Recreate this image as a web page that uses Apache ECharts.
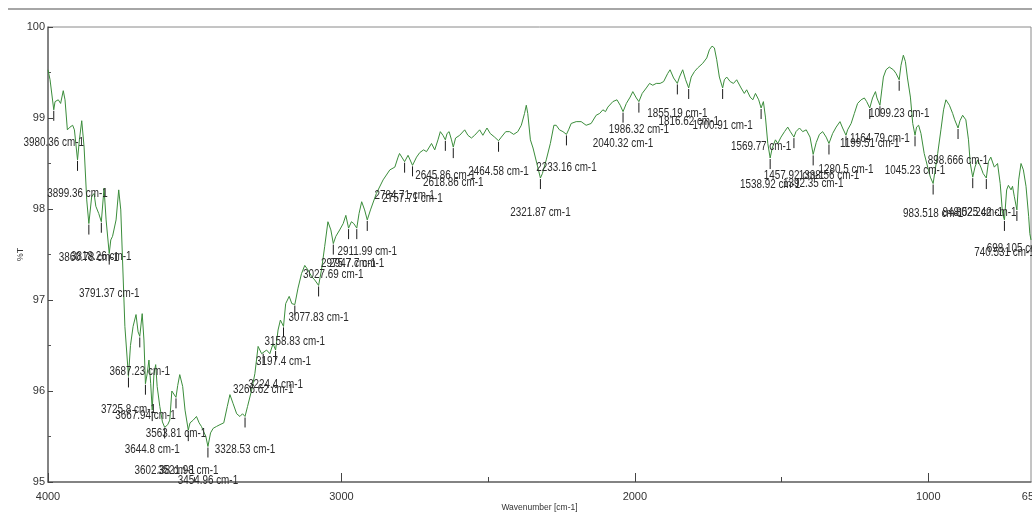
<!DOCTYPE html>
<html>
<head>
<meta charset="utf-8">
<title>IR spectrum</title>
<script src="https://cdn.jsdelivr.net/npm/echarts@6/dist/echarts.min.js"></script>
<style>
  html, body { margin: 0; padding: 0; background: #ffffff; }
  #chart { width: 1032px; height: 515px; }
</style>
</head>
<body>
<div id="chart"></div>
<script>
// Spectrum trace: wavenumber (cm-1) and transmittance (%T), high to low wavenumber
const wavenumbers = [
  4000, 3993, 3980.36, 3976, 3965, 3957, 3948, 3942, 3934, 3925, 3916, 3910, 3899.36, 3893, 3885, 3877, 3868,
  3860.78, 3851, 3843, 3837, 3827, 3818.26, 3809, 3802, 3791.37, 3786, 3780, 3768, 3759, 3752, 3746, 3738,
  3725.8, 3719, 3710, 3700, 3693, 3687.23, 3679, 3673, 3667.94, 3662, 3656, 3650, 3644.8, 3639, 3633, 3628,
  3619, 3610, 3602.38, 3592, 3585, 3578, 3563.81, 3558, 3551, 3541, 3533, 3521.98, 3516, 3505, 3494, 3485,
  3477, 3469, 3462, 3454.96, 3446, 3437, 3426, 3414, 3401, 3389, 3380, 3369, 3357, 3346, 3337, 3328.53, 3320,
  3306, 3295, 3284, 3272, 3266.62, 3255, 3244, 3233, 3224.4, 3216, 3208, 3197.4, 3190, 3185, 3178, 3169,
  3158.83, 3148, 3136, 3125, 3114, 3102, 3091, 3077.83, 3068, 3057, 3046, 3036, 3027.69, 3019, 3006, 2994,
  2985, 2975.7, 2966, 2958, 2947.7, 2940, 2931, 2921, 2911.99, 2901, 2881, 2858, 2835, 2818, 2807, 2802,
  2784.71, 2773, 2757.71, 2744, 2733, 2720, 2710, 2693, 2682, 2671, 2663, 2654, 2645.86, 2640, 2633, 2625,
  2618.86, 2611, 2597, 2580, 2569, 2557, 2546, 2529, 2518, 2504, 2493, 2478, 2464.58, 2455, 2440, 2427,
  2413, 2399, 2387, 2376, 2370, 2365, 2356, 2347, 2342, 2334, 2321.87, 2315, 2302, 2288, 2276, 2268, 2257,
  2245, 2233.16, 2226, 2217, 2200, 2183, 2166, 2149, 2132, 2120, 2109, 2100, 2092, 2075, 2061, 2050, 2040.32,
  2029, 2016, 2007, 1995, 1986.32, 1975, 1961, 1950, 1939, 1927, 1914, 1902, 1888, 1880, 1868, 1855.19,
  1848, 1837, 1827, 1816.62, 1808, 1797, 1786, 1769, 1755, 1746, 1737, 1729, 1721, 1712, 1700.91, 1695,
  1687, 1675, 1664, 1653, 1638, 1627, 1619, 1607, 1598, 1589, 1578, 1569.77, 1562, 1555, 1547, 1538.92,
  1532, 1521, 1513, 1502, 1490, 1479, 1470, 1457.92, 1451, 1439, 1428, 1416, 1403, 1392.35, 1382, 1371,
  1360, 1348, 1338.56, 1326, 1314, 1301, 1292, 1280.5, 1275, 1263, 1252, 1241, 1229, 1218, 1210, 1199.51,
  1190, 1180, 1175, 1164.79, 1158, 1153, 1144, 1133, 1119, 1110, 1099.23, 1093, 1085, 1078, 1071, 1061,
  1053, 1045.23, 1040, 1033, 1025, 1014, 1002, 993, 983.518, 978, 968, 957, 948, 940, 928, 917, 910,
  898.666, 892, 883, 872, 863, 857, 848.525, 841, 832, 821, 813, 802.242, 795, 787, 775, 764, 755, 747,
  740.531, 733, 727, 718, 713, 707, 698.105, 692, 684, 676, 667, 658, 654, 650
];
const transmittance = [
  99.53, 99.42, 99.09, 99.18, 99.20, 99.16, 99.30, 99.20, 98.87, 98.90, 98.92, 98.87, 98.54, 98.76, 98.97, 98.68, 98.10,
  97.84, 98.14, 98.17, 98.03, 97.95, 97.86, 98.23, 97.88, 97.51, 97.66, 97.70, 97.88, 98.21, 97.99, 97.44, 96.71,
  96.16, 96.50, 96.71, 96.84, 96.65, 96.60, 96.85, 96.56, 96.08, 96.19, 96.34, 96.08, 95.79, 96.19, 96.29, 96.05,
  95.83, 95.66, 95.60, 95.63, 95.68, 96.00, 95.93, 96.06, 96.18, 96.05, 95.79, 95.57, 95.65, 95.68, 95.72, 95.65,
  95.61, 95.55, 95.50, 95.39, 95.54, 95.59, 95.61, 95.63, 95.65, 95.83, 95.96, 95.86, 95.75, 95.72, 95.75, 95.72, 95.83,
  96.01, 96.19, 96.49, 96.41, 96.42, 96.45, 96.41, 96.52, 96.45, 96.67, 96.78, 96.71, 96.96, 96.96, 97.04, 96.96,
  96.95, 97.13, 97.29, 97.38, 97.33, 97.26, 97.22, 97.16, 97.33, 97.59, 97.86, 97.77, 97.62, 97.70, 97.77, 97.84,
  97.93, 97.79, 97.86, 97.84, 97.79, 97.95, 98.08, 97.99, 97.88, 97.99, 98.17, 98.32, 98.43, 98.46, 98.57, 98.61,
  98.52, 98.59, 98.48, 98.57, 98.62, 98.65, 98.63, 98.72, 98.65, 98.76, 98.85, 98.81, 98.76, 98.83, 98.85, 98.76,
  98.68, 98.78, 98.81, 98.87, 98.81, 98.78, 98.81, 98.87, 98.81, 98.89, 98.83, 98.79, 98.75, 98.79, 98.85, 98.85,
  98.82, 98.85, 98.92, 99.05, 99.14, 99.05, 98.76, 98.67, 98.68, 98.50, 98.34, 98.39, 98.54, 98.72, 98.92, 98.92, 98.87,
  98.85, 98.82, 98.87, 98.94, 98.96, 98.96, 98.92, 98.94, 99.03, 99.05, 99.09, 99.07, 99.12, 99.18, 99.20, 99.14, 99.07,
  99.16, 99.23, 99.29, 99.22, 99.18, 99.27, 99.33, 99.38, 99.36, 99.38, 99.38, 99.40, 99.49, 99.53, 99.44, 99.38,
  99.45, 99.53, 99.42, 99.33, 99.45, 99.51, 99.55, 99.60, 99.66, 99.75, 99.79, 99.77, 99.64, 99.45, 99.33, 99.42,
  99.45, 99.40, 99.38, 99.42, 99.33, 99.27, 99.31, 99.23, 99.20, 99.27, 99.20, 99.11, 99.18, 99.01, 98.72, 98.56,
  98.67, 98.76, 98.72, 98.79, 98.85, 98.90, 98.85, 98.79, 98.85, 98.89, 98.85, 98.87, 98.79, 98.60, 98.73, 98.82,
  98.85, 98.79, 98.72, 98.83, 98.90, 98.96, 98.89, 98.81, 98.87, 98.94, 99.05, 99.16, 99.20, 99.22, 99.18, 99.11,
  99.22, 99.29, 99.22, 99.14, 99.32, 99.45, 99.53, 99.56, 99.53, 99.49, 99.42, 99.58, 99.69, 99.62, 99.44, 99.23,
  98.94, 98.81, 98.90, 98.92, 98.83, 98.61, 98.46, 98.35, 98.28, 98.40, 98.61, 98.87, 99.09, 99.20, 99.14, 99.05, 98.98,
  98.89, 98.97, 99.03, 98.98, 98.76, 98.50, 98.35, 98.46, 98.54, 98.46, 98.39, 98.34, 98.52, 98.57, 98.46, 98.50, 98.28, 97.95,
  97.88, 98.21, 98.26, 98.21, 98.25, 98.14, 97.99, 98.32, 98.50, 98.43, 98.25, 97.92, 97.73, 97.66
];

// Picked peaks (cm-1)
const peakWavenumbers = [
  3980.36, 3899.36, 3860.78, 3818.26, 3791.37, 3725.8, 3687.23, 3667.94, 3644.8, 3602.38, 3563.81, 3521.98,
  3454.96, 3328.53, 3266.62, 3224.4, 3197.4, 3158.83, 3077.83, 3027.69, 2975.7, 2947.7, 2911.99, 2784.71,
  2757.71, 2645.86, 2618.86, 2464.58, 2321.87, 2233.16, 2040.32, 1986.32, 1855.19, 1816.62, 1700.91, 1569.77,
  1538.92, 1457.92, 1392.35, 1338.56, 1280.5, 1199.51, 1164.79, 1099.23, 1045.23, 983.518, 898.666, 848.525,
  802.242, 740.531, 698.105
];
// Vertical drop (px) of each peak label below its peak
const labelDrop = [
  33, 34, 34, 35, 40, 33, 35, 32, 39, 43, 36, 40,
  34, 33, 37, 34, 35, 37, 32, 31, 35, 35, 32, 34,
  33, 36, 35, 31, 34, 33, 32, 28, 30, 33, 37, 38,
  26, 38, 29, 32, 34, 35, 33, 34, 35, 30, 32, 35,
  34, 33, 39
];

// Axis ticks
const xMajorTicks = [4000, 3000, 2000, 1000];
const xMinorTicks = [3500, 2500, 1500];
const xTickLabels = [4000, 3000, 2000, 1000, 650];

const spectrum = wavenumbers.map((w, i) => [w, transmittance[i]]);

function transmittanceAt(w) {
  for (let i = 0; i < wavenumbers.length - 1; i++) {
    const a = wavenumbers[i], b = wavenumbers[i + 1];
    if (w <= a && w >= b) {
      const t = (a - w) / (a - b);
      return transmittance[i] + t * (transmittance[i + 1] - transmittance[i]);
    }
  }
  return transmittance[transmittance.length - 1];
}

const peaks = peakWavenumbers.map((w, i) => [w, transmittanceAt(w), i]);

const FONT = "'Liberation Sans', Arial, sans-serif";
const chart = echarts.init(document.getElementById('chart'), null, { renderer: 'canvas' });

const axisLineStyle = { color: '#6e6e6e', width: 1.5 };

chart.setOption({
  animation: false,
  backgroundColor: '#ffffff',
  grid: {
    left: 48, right: 1, top: 27, bottom: 33,
    containLabel: false, outerBoundsMode: 'none',
    show: true, borderColor: '#8a8a8a', borderWidth: 1, backgroundColor: 'transparent'
  },
  graphic: [{
    type: 'line', shape: { x1: 8, y1: 9, x2: 1032, y2: 9 },
    style: { stroke: '#a6a6a6', lineWidth: 2 }, silent: true
  }],
  xAxis: [{
    type: 'value', inverse: true, min: 650, max: 4000,
    name: 'Wavenumber [cm-1]', nameLocation: 'middle', nameGap: 21, nameMoveOverlap: false,
    nameTextStyle: { fontFamily: FONT, fontSize: 8.5, color: '#333' },
    axisLine: { show: true, onZero: false, lineStyle: axisLineStyle },
    axisTick: { show: true, inside: true, length: 9, customValues: xMajorTicks, lineStyle: { color: '#444' } },
    axisLabel: {
      customValues: xTickLabels, fontFamily: FONT, fontSize: 11, color: '#333', margin: 9,
      formatter: function (v) { return String(v); }
    },
    splitLine: { show: false }
  }, {
    type: 'value', inverse: true, min: 650, max: 4000, position: 'bottom',
    axisLine: { show: false },
    axisTick: { show: true, inside: true, length: 5, customValues: xMinorTicks, lineStyle: { color: '#444' } },
    axisLabel: { show: false },
    splitLine: { show: false }
  }],
  yAxis: {
    type: 'value', min: 95, max: 100, interval: 1,
    name: '%T', nameLocation: 'middle', nameGap: 23, nameMoveOverlap: false,
    nameTextStyle: { fontFamily: FONT, fontSize: 9, color: '#333' },
    axisLine: { show: true, lineStyle: axisLineStyle },
    axisTick: { show: true, inside: true, length: 5, lineStyle: { color: '#444' } },
    minorTick: { show: true, splitNumber: 2, length: 3, lineStyle: { color: '#555' } },
    axisLabel: { fontFamily: FONT, fontSize: 11, color: '#333', margin: 3 },
    splitLine: { show: false }
  },
  series: [{
    type: 'line',
    data: spectrum,
    showSymbol: false,
    smooth: false,
    lineStyle: { color: '#3b8d3b', width: 1 },
    z: 3
  }, {
    type: 'custom',
    data: peaks,
    clip: false,
    z: 4,
    renderItem: function (params, api) {
      const w = api.value(0);
      const p = api.coord([w, api.value(1)]);
      const drop = labelDrop[api.value(2)];
      return {
        type: 'group',
        children: [{
          type: 'line',
          shape: { x1: p[0], y1: p[1] + 1, x2: p[0], y2: p[1] + 11 },
          style: { stroke: '#1a1a1a', lineWidth: 1 }
        }, {
          type: 'text',
          x: p[0], y: p[1] + drop,
          scaleX: 0.76,
          style: {
            text: w + ' cm-1',
            x: 0, y: 0,
            align: 'center', verticalAlign: 'middle',
            font: '13px ' + FONT,
            fill: '#2a2a2a'
          }
        }]
      };
    }
  }]
});
</script>
</body>
</html>
